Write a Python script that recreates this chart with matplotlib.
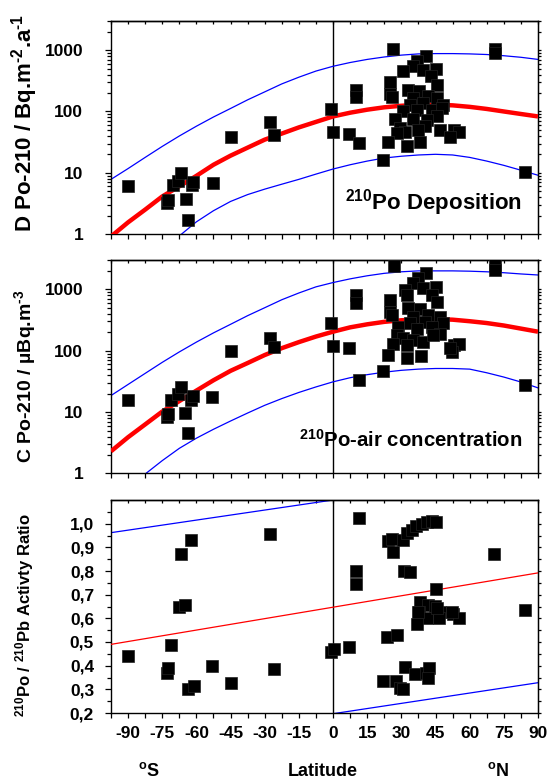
import matplotlib
matplotlib.use('Agg')
import matplotlib.pyplot as plt
from matplotlib.ticker import FixedLocator, NullFormatter, FixedFormatter

plt.rcParams['font.family'] = ['Liberation Sans', 'DejaVu Sans']
plt.rcParams['font.weight'] = 'bold'
plt.rcParams['mathtext.fontset'] = 'custom'
plt.rcParams['mathtext.rm'] = 'Liberation Sans:bold'
plt.rcParams['mathtext.it'] = 'Liberation Sans:bold'
plt.rcParams['mathtext.bf'] = 'Liberation Sans:bold'
plt.rcParams['mathtext.default'] = 'bf'

# ---------------- data ----------------
# Panel 1: 210Po deposition (Bq m-2 a-1)
dep_lat = [-89.9, -72.8, -72.4, -70.2, -68.0, -66.8, -64.6, -63.6, -62.1, -61.4, -52.9,
           -44.8, -27.5, -26.0, -1.0, 0.1, 7.0, 10.1, 10.1, 11.3,
           26.5, 40.9, 36.8, 35.0, 30.9, 39.7, 45.3, 43.1, 25.0, 45.5, 25.0, 25.8, 32.7, 37.9,
           35.3, 41.9, 45.5, 48.5, 33.8, 39.7, 36.8, 43.4, 47.7, 30.9, 45.5, 41.2, 27.2, 35.3,
           40.4, 29.4, 31.6, 28.0, 37.5, 47.0, 52.9, 55.1, 51.4, 24.3, 32.4, 38.2, 22.1,
           71.1, 71.1, 84.4]
dep_val = [6.05, 3.15, 3.6, 6.3, 7.4, 9.8, 3.7, 1.72, 6.3, 7.1, 6.85,
           38, 68.5, 41.7, 110, 47, 42.6, 227, 170, 31,
           1050, 820, 660, 547, 453, 483, 495, 385, 298, 274, 195, 172, 227, 213,
           166, 176, 166, 129, 129, 137, 107, 107, 114, 100, 83, 73, 75, 75,
           57, 53, 47, 44, 50, 49, 50, 47, 39, 32, 27, 32, 16,
           1030, 910, 10.4]

# Panel 2: 210Po air concentration (uBq m-3)
air_lat = [-89.9, -73.0, -72.4, -71.0, -68.1, -66.9, -64.8, -63.5, -62.3, -61.6, -53.1,
           -44.8, -27.7, -26.0, -1.0, 0.1, 7.0, 10.1, 10.1, 11.3, 22.1,
           26.6, 40.9, 37.5, 35.3, 31.6, 39.7, 45.3, 43.4, 32.3, 25.0, 45.5, 25.0, 25.8, 33.1,
           38.2, 35.3, 41.9, 47.0, 33.8, 40.4, 48.5, 36.8, 43.4, 47.0, 28.7, 28.0, 30.9, 35.3,
           39.7, 26.5, 32.4, 44.1, 52.9, 55.1, 52.2, 51.4, 24.3, 32.4, 38.5,
           71.1, 71.1, 84.4]
air_val = [15.6, 8.2, 9.2, 16, 19.6, 25.9, 9.7, 4.5, 15.6, 18.2, 17.3,
           100, 158, 113, 285, 120, 109, 807, 590, 33, 46,
           2400, 1820, 1510, 1250, 975, 1040, 1080, 807, 807, 670, 630, 432, 380, 500,
           478, 357, 380, 357, 279, 295, 279, 225, 245, 190, 245, 180, 162, 149,
           136, 127, 123, 180, 123, 127, 96, 110, 85, 77, 83,
           2490, 2070, 27.5]

# Panel 3: 210Po/210Pb activity ratio
ratio_lat = [-89.9, -73.0, -72.4, -71.0, -67.6, -66.9, -64.8, -63.5, -62.3, -61.2, -53.1,
             -44.8, -27.5, -25.9, -1.0, 0.4, 7.0, 11.4, 10.1, 10.1,
             24.3, 25.8, 26.5, 30.9, 32.3, 34.5, 36.4, 38.9, 41.1, 43.3, 45.2, 31.2, 33.8, 45.1,
             70.8, 84.4, 38.2, 41.8, 44.8, 37.9, 41.1, 47.0, 46.7, 52.6, 55.5, 36.8, 23.9, 28.0,
             31.6, 36.0, 40.7, 42.2, 41.9, 22.1, 27.7, 29.4, 30.9, 45.5, 52.1, 37.5]
ratio_val = [0.44, 0.37, 0.389, 0.487, 0.649, 0.871, 0.656, 0.30, 0.93, 0.314, 0.398,
             0.325, 0.955, 0.384, 0.459, 0.469, 0.48, 1.026, 0.80, 0.744,
             0.925, 0.935, 0.88, 0.933, 0.96, 0.975, 0.989, 0.997, 1.005, 1.01, 1.005, 0.798, 0.794, 0.722,
             0.871, 0.635, 0.667, 0.656, 0.651, 0.625, 0.60, 0.627, 0.60, 0.62, 0.60, 0.574, 0.522, 0.529,
             0.393, 0.365, 0.37, 0.39, 0.35, 0.336, 0.336, 0.304, 0.30, 0.642, 0.627, 0.627]

# fitted curves
curve_lat = [-97.5, -90, -82.5, -75, -67.5, -60, -52.5, -45, -37.5, -30, -22.5, -15, -7.5,
             0, 7.5, 15, 22.5, 30, 37.5, 45, 52.5, 60, 67.5, 75, 82.5, 90]
dep_fit = [0.91, 1.55, 2.5, 4.1, 6.0, 8.9, 13.5, 19, 25.7, 34.7, 43.6, 55, 67.6,
           83, 95.5, 107, 117, 124, 128, 129, 126, 119, 110, 100, 91, 83]
dep_upper = [7.8, 11.7, 17.8, 26.9, 39.8, 57.5, 81.3, 112, 155, 209, 282, 363, 457,
             547, 630, 708, 776, 832, 871, 881, 881, 871, 851, 813, 767, 708]
dep_low_lat = [-67.5, -60, -52.5, -45, -37.5, -30, -22.5, -15, -7.5,
               0, 7.5, 15, 22.5, 30, 37.5, 45, 52.5, 60, 67.5, 75, 82.5, 90]
dep_lower = [0.93, 1.58, 2.4, 3.4, 4.4, 5.4, 6.5, 7.8, 9.5,
             11.5, 13.5, 15.5, 17.4, 18.6, 19.5, 20, 19.5, 17.8, 15.5, 13.2, 11, 9.1]

air_fit = [2.3, 3.9, 6.3, 10.2, 15.1, 22.4, 33, 47, 63, 85, 110, 138, 170,
           204, 240, 269, 295, 313, 324, 327, 320, 302, 282, 257, 229, 204]
air_upper = [18.6, 28.2, 42.7, 64.6, 95.5, 138, 195, 269, 372, 501, 676, 871, 1096,
             1288, 1479, 1660, 1820, 1928, 1995, 1995, 1995, 1972, 1928, 1862, 1778, 1710]
air_low_lat = [-82.5, -75, -67.5, -60, -52.5, -45, -37.5, -30, -22.5, -15, -7.5,
               0, 7.5, 15, 22.5, 30, 37.5, 45, 52.5, 60, 67.5, 75, 82.5, 90]
air_lower = [0.98, 1.62, 2.57, 3.76, 5.25, 7.16, 9.66, 12.9, 16.6, 20.9, 25.7,
             31.1, 36.3, 40.7, 44.7, 47.9, 50.1, 51.3, 51.3, 50.1, 43.7, 37.2, 30.9, 24.8]

ratio_fit_lat = [-97.5, 90]
ratio_fit = [0.49, 0.792]
ratio_up_lat = [-97.5, 0]
ratio_upper = [0.962, 1.10]
ratio_low_lat = [0, 90]
ratio_lower = [0.197, 0.328]

log_ticks = [1, 10, 100, 1000]
log_labels = ['1', '10', '100', '1000']
ratio_ticks = [0.2, 0.3, 0.4, 0.5, 0.6, 0.7, 0.8, 0.9, 1.0]
ratio_labels = ['0,2', '0,3', '0,4', '0,5', '0,6', '0,7', '0,8', '0,9', '1,0']
lat_ticks = [-90, -75, -60, -45, -30, -15, 0, 15, 30, 45, 60, 75, 90]
lat_labels = ['-90', '-75', '-60', '-45', '-30', '-15', '0', '15', '30', '45', '60', '75', '90']

# ---------------- figure ----------------
W, H = 547, 780
fig = plt.figure(figsize=(W / 100, H / 100), dpi=100)

def box(top, bottom, left=111, right=538):
    return [left / W, 1 - bottom / H, (right - left) / W, (bottom - top) / H]

ax1 = fig.add_axes(box(21, 234))
ax2 = fig.add_axes(box(260, 473.5))
ax3 = fig.add_axes(box(500, 713))

TICK_FS = 12.5
minor_lat = [-97.5 + 7.5 * i for i in range(26)]
x_labels_all = [lat_labels[lat_ticks.index(t)] if t in lat_ticks else '' for t in minor_lat]
log_minor = [m * d for d in (1, 10, 100, 1000) for m in range(2, 10) if m * d <= 3000]
ratio_minor = [0.25 + 0.1 * i for i in range(9)]

def style(ax, labels_on, ypad, majors, minors):
    ax.set_xlim(-97.5, 90)
    ax.xaxis.set_major_locator(FixedLocator(minor_lat))
    if labels_on:
        ax.xaxis.set_major_formatter(FixedFormatter(x_labels_all))
    else:
        ax.xaxis.set_major_formatter(NullFormatter())
    ax.tick_params(axis='x', which='both', direction='out', length=3.6, width=0.9,
                   labelsize=TICK_FS, pad=6)
    sec = ax.secondary_xaxis('top')
    sec.xaxis.set_major_locator(FixedLocator(minor_lat))
    sec.xaxis.set_major_formatter(NullFormatter())
    sec.tick_params(axis='x', which='both', direction='in', length=2.2, width=0.9)
    for s in sec.spines.values():
        s.set_linewidth(1.0)
    for s in ax.spines.values():
        s.set_linewidth(1.0)
    ax.tick_params(axis='y', which='both', direction='out', right=False, labelsize=TICK_FS,
                   width=0.9, pad=ypad)
    ax.tick_params(axis='y', which='major', length=4.5)
    ax.tick_params(axis='y', which='minor', length=3.0)
    secy = ax.secondary_yaxis('right')
    secy.yaxis.set_major_locator(FixedLocator(majors))
    secy.yaxis.set_minor_locator(FixedLocator(minors))
    secy.yaxis.set_major_formatter(NullFormatter())
    secy.yaxis.set_minor_formatter(NullFormatter())
    secy.tick_params(axis='y', which='both', direction='out', length=2.2, width=0.9)
    ax.axvline(0, color='black', lw=1.0, zorder=1)

MS = 8

# panel 1
ax1.set_yscale('log')
ax1.set_ylim(1, 3000)
ax1.plot(curve_lat, dep_upper, color='#0000ff', lw=0.9, zorder=2)
ax1.plot(dep_low_lat, dep_lower, color='#0000ff', lw=0.9, zorder=2)
ax1.plot(curve_lat, dep_fit, color='#ff0000', lw=3.2, zorder=3, solid_capstyle='butt')
ax1.plot(dep_lat, dep_val, 's', color='black', ms=MS, mec='#222222', mew=0.5, zorder=4)
ax1.yaxis.set_major_locator(FixedLocator(log_ticks))
ax1.yaxis.set_major_formatter(FixedFormatter(log_labels))
ax1.yaxis.set_minor_locator(FixedLocator(log_minor))
ax1.yaxis.set_minor_formatter(NullFormatter())
style(ax1, False, 15.5, log_ticks, log_minor)
ax1.text(0.963, 0.117, r'$^{210}$Po Deposition', transform=ax1.transAxes, ha='right',
         va='baseline', fontsize=16, fontweight='bold')

# panel 2
ax2.set_yscale('log')
ax2.set_ylim(1, 3000)
ax2.plot(curve_lat, air_upper, color='#0000ff', lw=0.9, zorder=2)
ax2.plot(air_low_lat, air_lower, color='#0000ff', lw=0.9, zorder=2)
ax2.plot(curve_lat, air_fit, color='#ff0000', lw=3.2, zorder=3, solid_capstyle='butt')
ax2.plot(air_lat, air_val, 's', color='black', ms=MS, mec='#222222', mew=0.5, zorder=4)
ax2.yaxis.set_major_locator(FixedLocator(log_ticks))
ax2.yaxis.set_major_formatter(FixedFormatter(log_labels))
ax2.yaxis.set_minor_locator(FixedLocator(log_minor))
ax2.yaxis.set_minor_formatter(NullFormatter())
style(ax2, False, 15.5, log_ticks, log_minor)
ax2.text(0.963, 0.125, r'$^{210}$Po-air concentration', transform=ax2.transAxes, ha='right',
         va='baseline', fontsize=14.7, fontweight='bold')

# panel 3
ax3.set_ylim(0.2, 1.1)
ax3.plot(ratio_up_lat, ratio_upper, color='#0000ff', lw=0.9, zorder=2)
ax3.plot(ratio_low_lat, ratio_lower, color='#0000ff', lw=0.9, zorder=2)
ax3.plot(ratio_fit_lat, ratio_fit, color='#ff0000', lw=0.9, zorder=3)
ax3.plot(ratio_lat, ratio_val, 's', color='black', ms=MS, mec='#222222', mew=0.5, zorder=4)
ax3.yaxis.set_major_locator(FixedLocator(ratio_ticks))
ax3.yaxis.set_major_formatter(FixedFormatter(ratio_labels))
ax3.yaxis.set_minor_locator(FixedLocator(ratio_minor))
ax3.yaxis.set_minor_formatter(NullFormatter())
style(ax3, True, 7.7, ratio_ticks, ratio_minor)

for a in (ax1, ax2, ax3):
    for lab in a.get_xticklabels() + a.get_yticklabels():
        lab.set_fontweight('bold')

# axis titles (short hyphen in the superscripts, as in the original)
HY = '\u2010'
fig.text(25 / W, 1 - 123 / H, 'D Po-210 / Bq.m$^{' + HY + '2}$.a$^{' + HY + '1}$', rotation=90,
         ha='center', va='center', fontsize=16, fontweight='bold')
fig.text(25 / W, 1 - 376 / H, 'C Po-210 / µBq.m$^{' + HY + '3}$', rotation=90,
         ha='center', va='center', fontsize=14, fontweight='bold')
fig.text(25 / W, 1 - 615 / H, r'$^{210}$Po / $^{210}$Pb Activty Ratio', rotation=90,
         ha='center', va='center', fontsize=12, fontweight='bold')
fig.text(323 / W, 1 - 771 / H, 'Latitude', ha='center', va='center', fontsize=13, fontweight='bold')
fig.text(149 / W, 1 - 771 / H, r'$^{o}$S', ha='center', va='center', fontsize=13, fontweight='bold')
fig.text(498 / W, 1 - 771 / H, r'$^{o}$N', ha='center', va='center', fontsize=13, fontweight='bold')

fig.savefig('out.png', dpi=100)
